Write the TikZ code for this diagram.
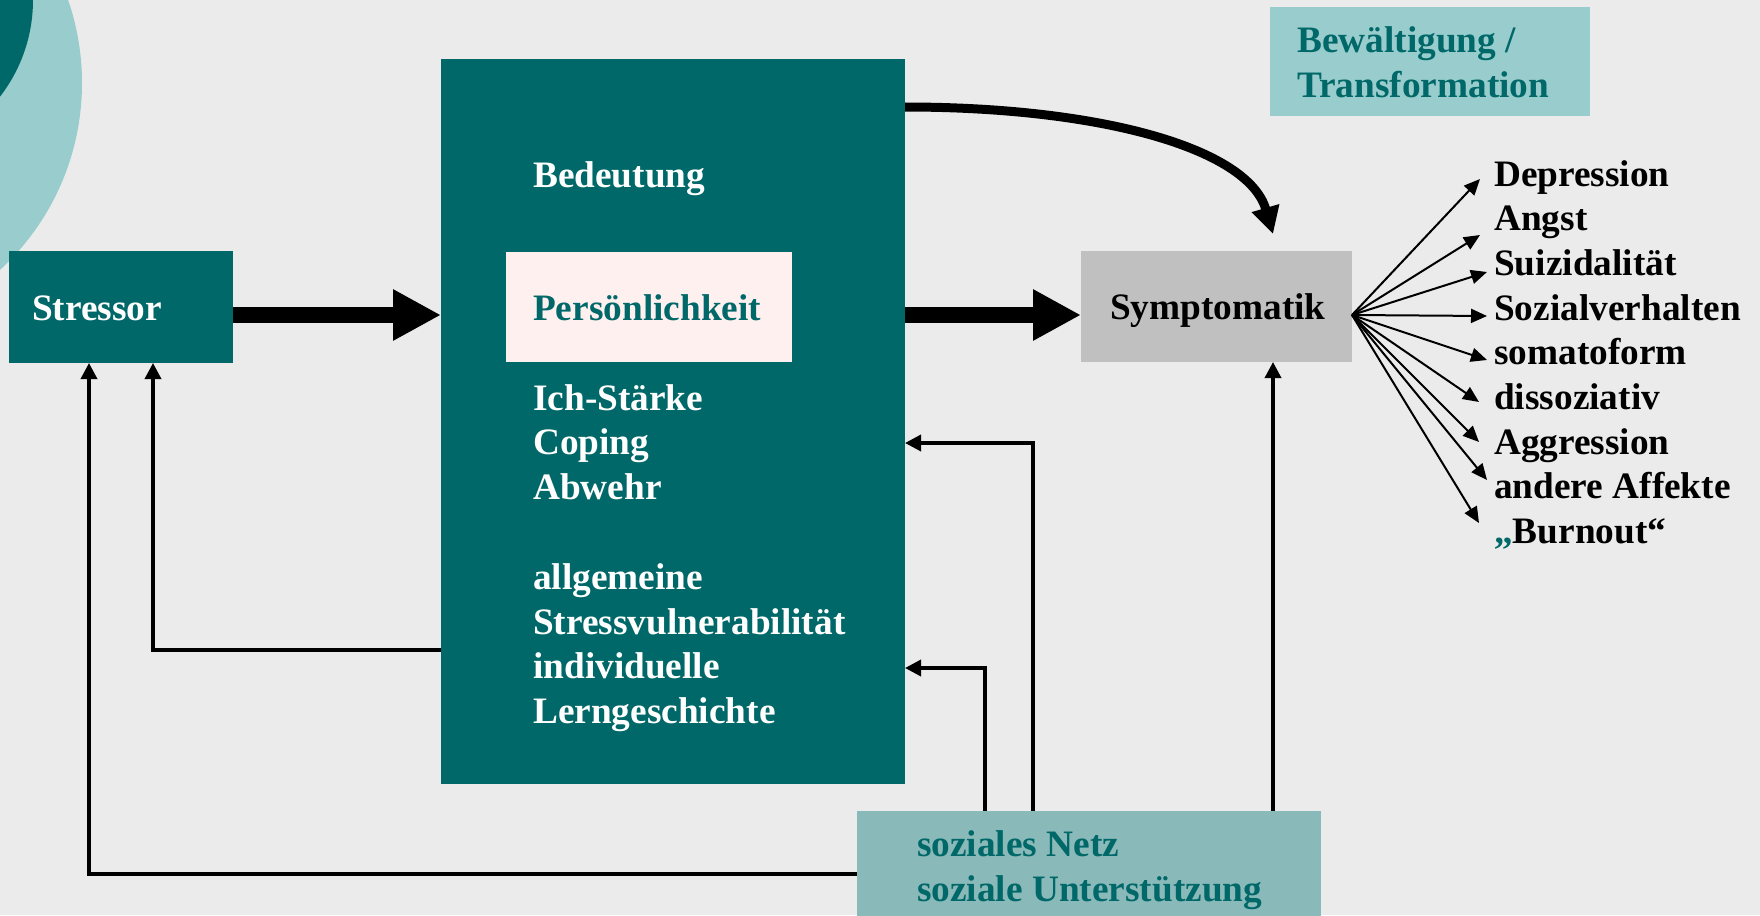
\documentclass[tikz,border=0pt]{standalone}
\usepackage{fontspec}
\setmainfont{Liberation Serif}
\usetikzlibrary{arrows.meta}
\definecolor{darkteal}{RGB}{0,104,104}
\definecolor{paleteal}{RGB}{153,204,204}
\definecolor{netzteal}{RGB}{138,185,185}
\definecolor{rosewhite}{RGB}{255,240,240}
\definecolor{symgray}{RGB}{192,192,192}
\definecolor{bggray}{RGB}{235,235,235}
\begin{document}
\begin{tikzpicture}[x=1pt,y=-1pt,
  box/.style={inner sep=0pt,outer sep=0pt,anchor=north west},
  txt/.style={inner sep=0pt,anchor=base west,font=\fontsize{37.3}{44.8}\selectfont\bfseries},
  fat/.style={line width=16pt,-{Triangle[length=48pt,width=48pt]}},
  curv/.style={line width=9pt,-{Triangle[length=27pt,width=27pt]}},
  fb/.style={line width=3.5pt,-{Triangle[length=16pt,width=16pt]}},
  fan/.style={line width=2pt,-{Triangle[length=16pt,width=14pt]}}]
\clip (0,0) rectangle (1760,915);
\fill[bggray] (0,0) rectangle (1760,915);
\fill[paleteal] (-172,83) circle (254pt);
\fill[darkteal] (-125,0) circle (158pt);
\node[box,fill=darkteal,minimum width=224pt,minimum height=112pt] (stressor) at (9,251) {};
\node[box,fill=darkteal,minimum width=464pt,minimum height=725pt] (big) at (441,59) {};
\node[box,fill=rosewhite,minimum width=286pt,minimum height=110pt] (pers) at (506,252) {};
\node[box,fill=symgray,minimum width=271pt,minimum height=111pt] (sym) at (1081,251) {};
\node[box,fill=paleteal,minimum width=320pt,minimum height=109pt] (bew) at (1270,7) {};
\node[box,fill=netzteal,minimum width=464pt,minimum height=126pt] (soz) at (857,811) {};
\node[txt,text=white] (stressor-l) at (32,320) {Stressor};
\node[txt,text=white] (bed) at (533,187) {Bedeutung};
\node[txt,text=darkteal] (pers-l) at (533,320) {Persönlichkeit};
\foreach \i/\t in {0/Ich-Stärke,1/Coping,2/Abwehr,4/allgemeine,5/Stressvulnerabilität,6/individuelle,7/Lerngeschichte}
  \node[txt,text=white] (ps\i) at (533,410+44.8*\i) {\t};
\node[txt] (sym-l) at (1110,319) {Symptomatik};
\node[txt,text=darkteal] (bew1) at (1297,53) {Bewältigung /};
\node[txt,text=darkteal] (bew2) at (1297,98) {Transformation};
\node[txt,text=darkteal] (soz1) at (917,856) {soziales Netz};
\node[txt,text=darkteal] (soz2) at (917,901) {soziale Unterstützung};
\foreach \t/\tx/\ty [count=\i from 0] in {Depression/1480/179,Angst/1480/235,Suizidalität/1487/272,Sozialverhalten/1487/316,somatoform/1487/360,dissoziativ/1479/402,Aggression/1479/442,andere Affekte/1487/480,{{\color{darkteal}„}Burnout“}/1479/523} {
  \node[txt] (out\i) at (1494,186+44.7*\i) {\t};
  \coordinate (tip\i) at (\tx,\ty);
  \draw[fan] ([yshift=-8.5pt]sym.east) -- (tip\i);
}
\draw[fat] ([yshift=-8pt]stressor.east) -- ([yshift=-8pt]stressor.east -| big.west);
\draw[fat] ([yshift=-8pt]stressor.east -| big.east) -- ([yshift=-8pt]stressor.east -| sym.west);
\coordinate (curvtip) at ([xshift=56.5pt,yshift=17pt]sym.north);
\draw[curv] ([yshift=-48pt]big.north east) .. controls (1100,107) and (1248,148) .. (curvtip);
\draw[fb] (soz.west) -| ([xshift=-32pt]stressor.south);
\draw[fb] ([yshift=134pt]big.south west) -| ([xshift=32pt]stressor.south);
\draw[fb] ([xshift=128pt]soz.north west) |- ([yshift=116pt]big.south east);
\draw[fb] ([xshift=176pt]soz.north west) |- ([yshift=-21.5pt]big.east);
\draw[fb] ([xshift=56.5pt]sym.south |- soz.north) -- ([xshift=56.5pt]sym.south);
\end{tikzpicture}
\end{document}
